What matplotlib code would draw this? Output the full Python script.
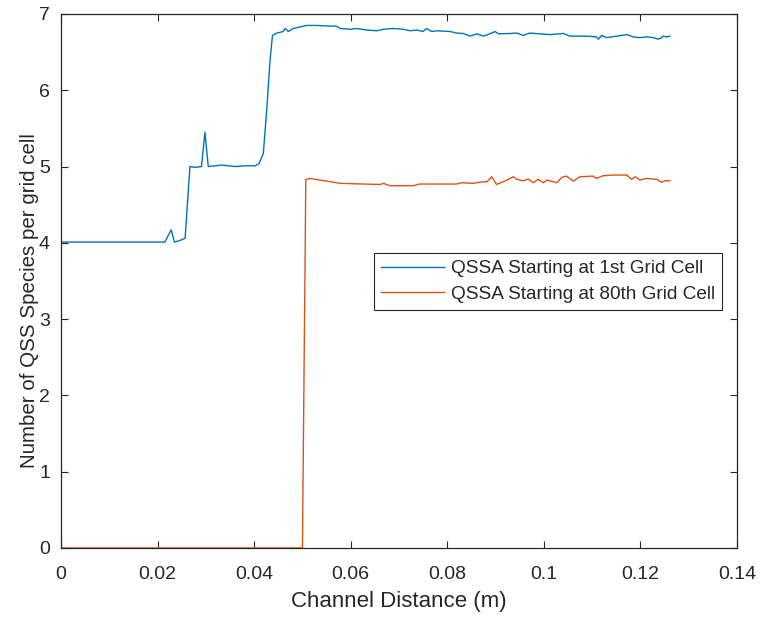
import matplotlib
matplotlib.use('Agg')
import matplotlib.pyplot as plt

# QSSA starting at 1st grid cell
x_first = [0.0, 0.0215, 0.0228, 0.0235, 0.0246, 0.0257, 0.0267, 0.0278, 0.0291,
           0.0298, 0.0305, 0.0333, 0.0347, 0.0360, 0.0381, 0.0402, 0.0410,
           0.0419, 0.0426, 0.0433, 0.0438, 0.0447, 0.0460, 0.0464, 0.0471,
           0.0481, 0.0495, 0.0509, 0.0530, 0.0543, 0.0571, 0.0578, 0.0599,
           0.0612, 0.0633, 0.0654, 0.0668, 0.0688, 0.0709, 0.0723, 0.0737,
           0.0750, 0.0757, 0.0768, 0.0778, 0.0806, 0.0819, 0.0833, 0.0847,
           0.0861, 0.0875, 0.0888, 0.0899, 0.0906, 0.0930, 0.0944, 0.0957,
           0.0971, 0.0992, 0.1013, 0.1040, 0.1054, 0.1075, 0.1089, 0.1109,
           0.1113, 0.1120, 0.1130, 0.1151, 0.1172, 0.1185, 0.1199, 0.1213,
           0.1227, 0.1237, 0.1244, 0.1247, 0.1254, 0.1261]
y_first = [4.01, 4.01, 4.17, 4.01, 4.03, 4.06, 5.00, 4.99, 5.00,
           5.45, 5.00, 5.02, 5.01, 5.00, 5.01, 5.01, 5.04,
           5.17, 5.74, 6.40, 6.72, 6.75, 6.77, 6.81, 6.77,
           6.81, 6.83, 6.85, 6.85, 6.845, 6.84, 6.81, 6.80,
           6.81, 6.79, 6.78, 6.80, 6.81, 6.80, 6.78, 6.79,
           6.77, 6.81, 6.77, 6.78, 6.77, 6.75, 6.745, 6.71,
           6.74, 6.71, 6.74, 6.77, 6.74, 6.745, 6.75, 6.72,
           6.75, 6.74, 6.73, 6.745, 6.71, 6.71, 6.71, 6.70,
           6.67, 6.72, 6.69, 6.71, 6.73, 6.70, 6.69, 6.70,
           6.69, 6.67, 6.69, 6.71, 6.70, 6.71]

# QSSA starting at 80th grid cell
x_80th = [0.0, 0.0500, 0.0507, 0.0516, 0.0523, 0.0550, 0.0578, 0.0626, 0.0661,
          0.0668, 0.0681, 0.0730, 0.0743, 0.0819, 0.0830, 0.0854, 0.0868,
          0.0882, 0.0892, 0.0902, 0.0916, 0.0937, 0.0944, 0.0957, 0.0968,
          0.0978, 0.0988, 0.0999, 0.1006, 0.1027, 0.1037, 0.1047, 0.1061,
          0.1075, 0.1102, 0.1109, 0.1123, 0.1144, 0.1172, 0.1182, 0.1189,
          0.1199, 0.1213, 0.1234, 0.1244, 0.1251, 0.1261]
y_80th = [0.0, 0.0, 4.83, 4.845, 4.836, 4.81, 4.78, 4.771, 4.766,
          4.78, 4.749, 4.749, 4.771, 4.771, 4.788, 4.78, 4.797,
          4.801, 4.867, 4.766, 4.801, 4.867, 4.832, 4.814, 4.836,
          4.788, 4.832, 4.788, 4.823, 4.788, 4.858, 4.875, 4.81,
          4.867, 4.875, 4.845, 4.88, 4.889, 4.889, 4.832, 4.867,
          4.823, 4.845, 4.832, 4.793, 4.814, 4.814]

x_ticks = [0, 0.02, 0.04, 0.06, 0.08, 0.1, 0.12, 0.14]
x_tick_labels = ['0', '0.02', '0.04', '0.06', '0.08', '0.1', '0.12', '0.14']
y_ticks = [0, 1, 2, 3, 4, 5, 6, 7]

plt.rcParams['font.family'] = ['Liberation Sans', 'DejaVu Sans']
grey = '#262626'

fig = plt.figure(figsize=(7.61, 6.19), dpi=100)
ax = fig.add_axes([61 / 761, 1 - 548 / 619, 676 / 761, 534 / 619])

ax.plot(x_first, y_first, color='#0072BD', linewidth=1.0,
        label='QSSA Starting at 1st Grid Cell')
ax.plot(x_80th, y_80th, color='#D95319', linewidth=1.0,
        label='QSSA Starting at 80th Grid Cell')

ax.set_xlim(0, 0.14)
ax.set_ylim(0, 7)
ax.set_xticks(x_ticks)
ax.set_xticklabels(x_tick_labels)
ax.set_yticks(y_ticks)
ax.tick_params(direction='in', top=True, right=True, length=5, width=0.8,
               colors=grey, labelsize=14)
ax.tick_params(axis='x', pad=13)
ax.tick_params(axis='y', pad=8)
for s in ax.spines.values():
    s.set_color(grey)
    s.set_linewidth(0.9)

ax.set_xlabel('Channel Distance (m)', fontsize=16, color=grey, labelpad=6)
ax.set_ylabel('Number of QSS Species per grid cell', fontsize=14.8, color=grey)
ax.yaxis.set_label_coords(-0.032, 0.464)

leg = ax.legend(loc='upper right', bbox_to_anchor=(0.978, 0.552), fontsize=13.7,
                frameon=True, fancybox=False, edgecolor=grey, framealpha=1,
                handlelength=3.3, borderpad=0.35, labelspacing=0.45, handletextpad=0.4,
                borderaxespad=0)
leg.get_frame().set_linewidth(0.8)
for t in leg.get_texts():
    t.set_color(grey)

fig.savefig('out.png', dpi=100)
